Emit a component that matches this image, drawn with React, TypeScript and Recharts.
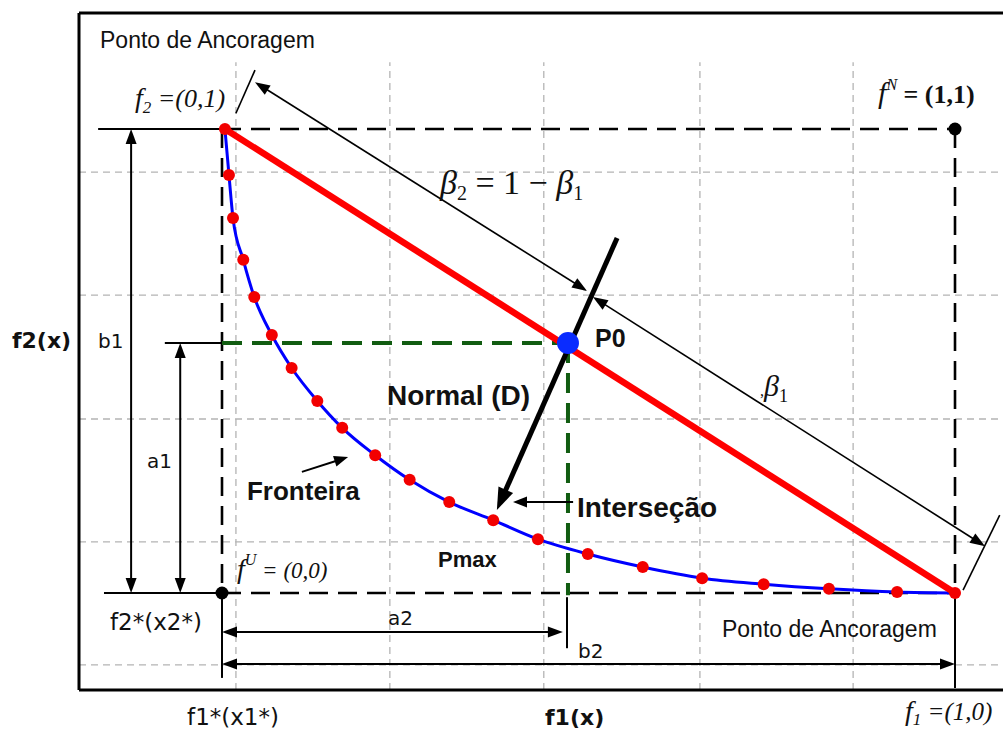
import React from 'react';
import { ComposedChart, XAxis, YAxis, Line, ReferenceLine, ReferenceDot } from 'recharts';

// Pareto frontier (normalised objectives f1, f2)
const frontierF1 = [0.004, 0.0095, 0.015, 0.029, 0.044, 0.068, 0.095, 0.13, 0.164, 0.209, 0.256, 0.31, 0.37, 0.431, 0.499, 0.574, 0.655, 0.739, 0.828, 0.921, 1.0];
const frontierF2 = [1.0, 0.901, 0.808, 0.718, 0.638, 0.556, 0.485, 0.414, 0.356, 0.297, 0.244, 0.196, 0.157, 0.116, 0.084, 0.056, 0.032, 0.019, 0.009, 0.002, 0.0];
const frontier = frontierF1.map((f1, i) => ({ f1, f2: frontierF2[i] }));

// grid lines
const gridF1 = [0.019, 0.229, 0.439, 0.652, 0.861];
const gridF2 = [0.907, 0.642, 0.375, 0.11, -0.155];

// key points
const anchor2 = { f1: 0.004, f2: 1 };
const anchor1 = { f1: 1, f2: 0 };
const utopia = { f1: 0, f2: 0 };
const nadir = { f1: 1, f2: 1 };
const p0 = { f1: 0.472, f2: 0.539 };
const normalStart = { f1: 0.539, f2: 0.765 };
const normalEnd = { f1: 0.375, f2: 0.179 };

const X_DOMAIN = [-0.30287, 1.06548];
const Y_DOMAIN = [-0.29741, 1.27802];
const FRAME = { left: -0.19509, right: 1.06548, top: 1.25, bottom: -0.20905 };

const SANS = "'Liberation Sans', Arial, sans-serif";
const VERD = "'DejaVu Sans', Verdana, sans-serif";
const SERIF = "'Liberation Serif', 'Times New Roman', serif";

function arrowShape(o: { color?: string; width?: number; dash?: string; start?: boolean; end?: boolean; head?: number; headW?: number }) {
  const color = o.color || '#000';
  return (p: any) => {
    const { x1, y1, x2, y2 } = p;
    const dx = x2 - x1, dy = y2 - y1;
    const L = Math.hypot(dx, dy) || 1;
    const ux = dx / L, uy = dy / L;
    const h = o.head ?? 14, w = o.headW ?? 5;
    const head = (tx: number, ty: number, ax: number, ay: number) => {
      const bx = tx - ax * h, by = ty - ay * h;
      return `${tx},${ty} ${bx - ay * w},${by + ax * w} ${bx + ay * w},${by - ax * w}`;
    };
    const sx = o.start ? x1 + ux * h * 0.8 : x1;
    const sy = o.start ? y1 + uy * h * 0.8 : y1;
    const ex = o.end ? x2 - ux * h * 0.8 : x2;
    const ey = o.end ? y2 - uy * h * 0.8 : y2;
    return (
      <g>
        <line x1={sx} y1={sy} x2={ex} y2={ey} stroke={color} strokeWidth={o.width ?? 2} strokeDasharray={o.dash} />
        {o.end && <polygon points={head(x2, y2, ux, uy)} fill={color} />}
        {o.start && <polygon points={head(x1, y1, -ux, -uy)} fill={color} />}
      </g>
    );
  };
}

function seg(key: string, a: [number, number], b: [number, number], shape: any) {
  return (
    <ReferenceLine
      key={key}
      segment={[{ x: a[0], y: a[1] }, { x: b[0], y: b[1] }]}
      ifOverflow="visible"
      shape={shape}
    />
  );
}

function txt(key: string, f1: number, f2: number, style: any, children: any) {
  return (
    <ReferenceDot
      key={key}
      x={f1}
      y={f2}
      r={0}
      ifOverflow="visible"
      shape={(p: any) => (
        <text x={p.cx} y={p.cy} {...style}>
          {children}
        </text>
      )}
    />
  );
}

const thinSolid = arrowShape({ width: 2 });
const frameLine = arrowShape({ width: 3 });
const gridLine = arrowShape({ color: '#b4b4b4', width: 1.3, dash: '7 5' });
const blackDash = arrowShape({ width: 2.6, dash: '19 10' });
const greenDash = arrowShape({ color: '#115c11', width: 4, dash: '20 10' });
const dimArrow = arrowShape({ width: 2, start: true, end: true, head: 15, headW: 5.5 });
const betaArrow = arrowShape({ width: 1.6, start: true, end: true, head: 15, headW: 5.5 });
const oneArrow = arrowShape({ width: 2, end: true, head: 14, headW: 5.5 });
const normalArrow = arrowShape({ width: 5, end: true, head: 22, headW: 8 });
const redLine = arrowShape({ color: '#ff0000', width: 6.5 });

export default function App() {
  return (
    <div style={{ position: 'absolute', left: 0, top: 0, width: 1003, height: 731, background: '#fff' }}>
      <ComposedChart width={1003} height={731} data={frontier} margin={{ top: 0, right: 0, bottom: 0, left: 0 }}>
        <XAxis type="number" dataKey="f1" domain={X_DOMAIN} hide allowDataOverflow />
        <YAxis type="number" domain={Y_DOMAIN} hide allowDataOverflow />

        {/* grid */}
        {gridF1.map((g, i) => seg('gx' + i, [g, FRAME.bottom], [g, 1.144], gridLine))}
        {gridF2.map((g, i) => seg('gy' + i, [FRAME.left, g], [FRAME.right, g], gridLine))}

        {/* frame */}
        {seg('ft', [FRAME.left, FRAME.top], [FRAME.right, FRAME.top], frameLine)}
        {seg('fl', [FRAME.left, FRAME.bottom], [FRAME.left, FRAME.top], frameLine)}
        {seg('fb', [FRAME.left, FRAME.bottom], [FRAME.right, FRAME.bottom], frameLine)}

        {/* dashed box */}
        {seg('d1', [utopia.f1, nadir.f2], [nadir.f1, nadir.f2], blackDash)}
        {seg('d2', [utopia.f1, utopia.f2], [anchor1.f1, anchor1.f2], blackDash)}
        {seg('d3', [utopia.f1, nadir.f2], [utopia.f1, utopia.f2], blackDash)}
        {seg('d4', [nadir.f1, nadir.f2], [anchor1.f1, anchor1.f2], blackDash)}

        {/* solid dimension guide lines */}
        {seg('s1', [anchor1.f1, 0], [anchor1.f1, -0.2047], thinSolid)}
        {seg('s2', [0, 0], [0, -0.183], thinSolid)}
        {seg('s3', [-0.169, 1], [anchor2.f1, 1], thinSolid)}
        {seg('s4', [-0.078, p0.f2], [0, p0.f2], thinSolid)}
        {seg('s5', [-0.161, 0], [0, 0], thinSolid)}
        {seg('s6', [0.4707, -0.009], [0.4707, -0.119], thinSolid)}

        {/* dimension arrows */}
        {seg('b1', [-0.124, 1], [-0.124, 0], dimArrow)}
        {seg('a1', [-0.057, p0.f2], [-0.057, 0], dimArrow)}
        {seg('a2', [0, -0.084], [0.465, -0.084], dimArrow)}
        {seg('b2', [0, -0.153], [1, -0.153], dimArrow)}

        {/* beta arrows and ticks */}
        {seg('be2', [0.045, 1.101], [0.498, 0.651], betaArrow)}
        {seg('be1', [0.506, 0.638], [1.041, 0.101], betaArrow)}
        {seg('tk1', [0.019, 1.034], [0.045, 1.127], arrowShape({ width: 1.6 }))}
        {seg('tk2', [1.011, 0.006], [1.061, 0.168], arrowShape({ width: 1.6 }))}

        {/* green projection */}
        {seg('gr1', [0, p0.f2], [p0.f1, p0.f2], greenDash)}
        {seg('gr2', [p0.f1, p0.f2], [p0.f1, -0.005], greenDash)}

        {/* label arrows */}
        {seg('fa', [0.109, 0.261], [0.172, 0.293], oneArrow)}
        {seg('ia', [0.479, 0.196], [0.397, 0.196], oneArrow)}

        {/* frontier */}
        <Line
          type="monotone"
          dataKey="f2"
          stroke="#0000ff"
          strokeWidth={3}
          isAnimationActive={false}
          dot={(p: any) => <circle key={'dot' + p.index} cx={p.cx} cy={p.cy} r={6} fill="#f20000" />}
          activeDot={false}
        />

        {/* line between anchor points */}
        {seg('red', [anchor2.f1, anchor2.f2], [anchor1.f1, anchor1.f2], redLine)}

        {/* normal */}
        {seg('nrm', [normalStart.f1, normalStart.f2], [normalEnd.f1, normalEnd.f2], normalArrow)}

        <ReferenceDot x={utopia.f1} y={utopia.f2} r={6.5} fill="#000" stroke="none" ifOverflow="visible" />
        <ReferenceDot x={nadir.f1} y={nadir.f2} r={6.5} fill="#000" stroke="none" ifOverflow="visible" />
        <ReferenceDot x={p0.f1} y={p0.f2} r={11} fill="#0a2cff" stroke="none" ifOverflow="visible" />

        {/* texts */}
        {txt('t1', -0.1664, 1.1746, { fontFamily: SANS, fontSize: 23, fill: '#111' }, 'Ponto de Ancoragem')}
        {txt('t2', 0.6821, -0.0948, { fontFamily: SANS, fontSize: 23, fill: '#111' }, 'Ponto de Ancoragem')}
        {txt('t3', -0.2865, 0.528, { fontFamily: VERD, fontSize: 22, fontWeight: 'bold', fill: '#111' }, 'f2(x)')}
        {txt('t4', -0.1692, 0.528, { fontFamily: VERD, fontSize: 20, fill: '#111' }, 'b1')}
        {txt('t5', -0.1023, 0.2694, { fontFamily: VERD, fontSize: 20, fill: '#111' }, 'a1')}
        {txt('t6', -0.1528, -0.0797, { fontFamily: VERD, fontSize: 23, fill: '#111' }, 'f2*(x2*)')}
        {txt('t7', -0.0477, -0.2845, { fontFamily: VERD, fontSize: 23, fill: '#111' }, 'f1*(x1*)')}
        {txt('t8', 0.4407, -0.2845, { fontFamily: VERD, fontSize: 22, fontWeight: 'bold', fill: '#111' }, 'f1(x)')}
        {txt('t9', 0.2265, -0.069, { fontFamily: VERD, fontSize: 20, fill: '#111' }, 'a2')}
        {txt('t10', 0.4857, -0.1401, { fontFamily: VERD, fontSize: 20, fill: '#111' }, 'b2')}
        {txt('t11', 0.2251, 0.4052, { fontFamily: SANS, fontSize: 28, fontWeight: 'bold', fill: '#111' }, 'Normal (D)')}
        {txt('t12', 0.5089, 0.5302, { fontFamily: SANS, fontSize: 25, fontWeight: 'bold', fill: '#111' }, 'P0')}
        {txt('t13', 0.0341, 0.2004, { fontFamily: SANS, fontSize: 26, fontWeight: 'bold', fill: '#111' }, 'Fronteira')}
        {txt('t14', 0.4843, 0.1638, { fontFamily: SANS, fontSize: 28, fontWeight: 'bold', fill: '#111' }, 'Interseção')}
        {txt('t15', 0.2947, 0.056, { fontFamily: SANS, fontSize: 22, fontWeight: 'bold', fill: '#111' }, 'Pmax')}
        {txt('t16', 0.2974, 0.8599, { fontFamily: SERIF, fontSize: 34, fill: '#111' }, [
          <tspan key="a" fontStyle="italic">β</tspan>,
          <tspan key="b" fontSize={20} dy={6}>2</tspan>,
          <tspan key="c" dy={-6}> = 1 − </tspan>,
          <tspan key="d" fontStyle="italic">β</tspan>,
          <tspan key="e" fontSize={20} dy={6}>1</tspan>,
        ])}
        {txt('t17', 0.734, 0.4246, { fontFamily: SERIF, fontSize: 30, fill: '#111' }, [
          <tspan key="a" fontSize={16}>,</tspan>,
          <tspan key="b" fontStyle="italic">β</tspan>,
          <tspan key="c" fontSize={18} dy={6}>1</tspan>,
        ])}
        {txt('t18', -0.1187, 1.0474, { fontFamily: SERIF, fontSize: 26, fontStyle: 'italic', fill: '#111' }, [
          <tspan key="a" fontSize={28}>f</tspan>,
          <tspan key="b" fontSize={17} dy={6}>2</tspan>,
          <tspan key="c" dy={-6}> =(0,1)</tspan>,
        ])}
        {txt('t19', 0.895, 1.056, { fontFamily: SERIF, fontSize: 26, fill: '#111' }, [
          <tspan key="a" fontSize={30} fontStyle="italic">f</tspan>,
          <tspan key="b" fontSize={16} fontStyle="italic" dy={-13}>N</tspan>,
          <tspan key="c" dy={13} fontWeight="bold"> = (1,1)</tspan>,
        ])}
        {txt('t20', 0.0205, 0.0323, { fontFamily: SERIF, fontSize: 23, fontStyle: 'italic', fill: '#111' }, [
          <tspan key="a" fontSize={28}>f</tspan>,
          <tspan key="b" fontSize={16} dy={-13}>U</tspan>,
          <tspan key="c" dy={13}> = (0,0)</tspan>,
        ])}
        {txt('t21', 0.9318, -0.2737, { fontFamily: SERIF, fontSize: 25, fontStyle: 'italic', fill: '#111' }, [
          <tspan key="a" fontSize={28}>f</tspan>,
          <tspan key="b" fontSize={17} dy={5}>1</tspan>,
          <tspan key="c" dy={-5}> =(1,0)</tspan>,
        ])}
      </ComposedChart>
    </div>
  );
}
